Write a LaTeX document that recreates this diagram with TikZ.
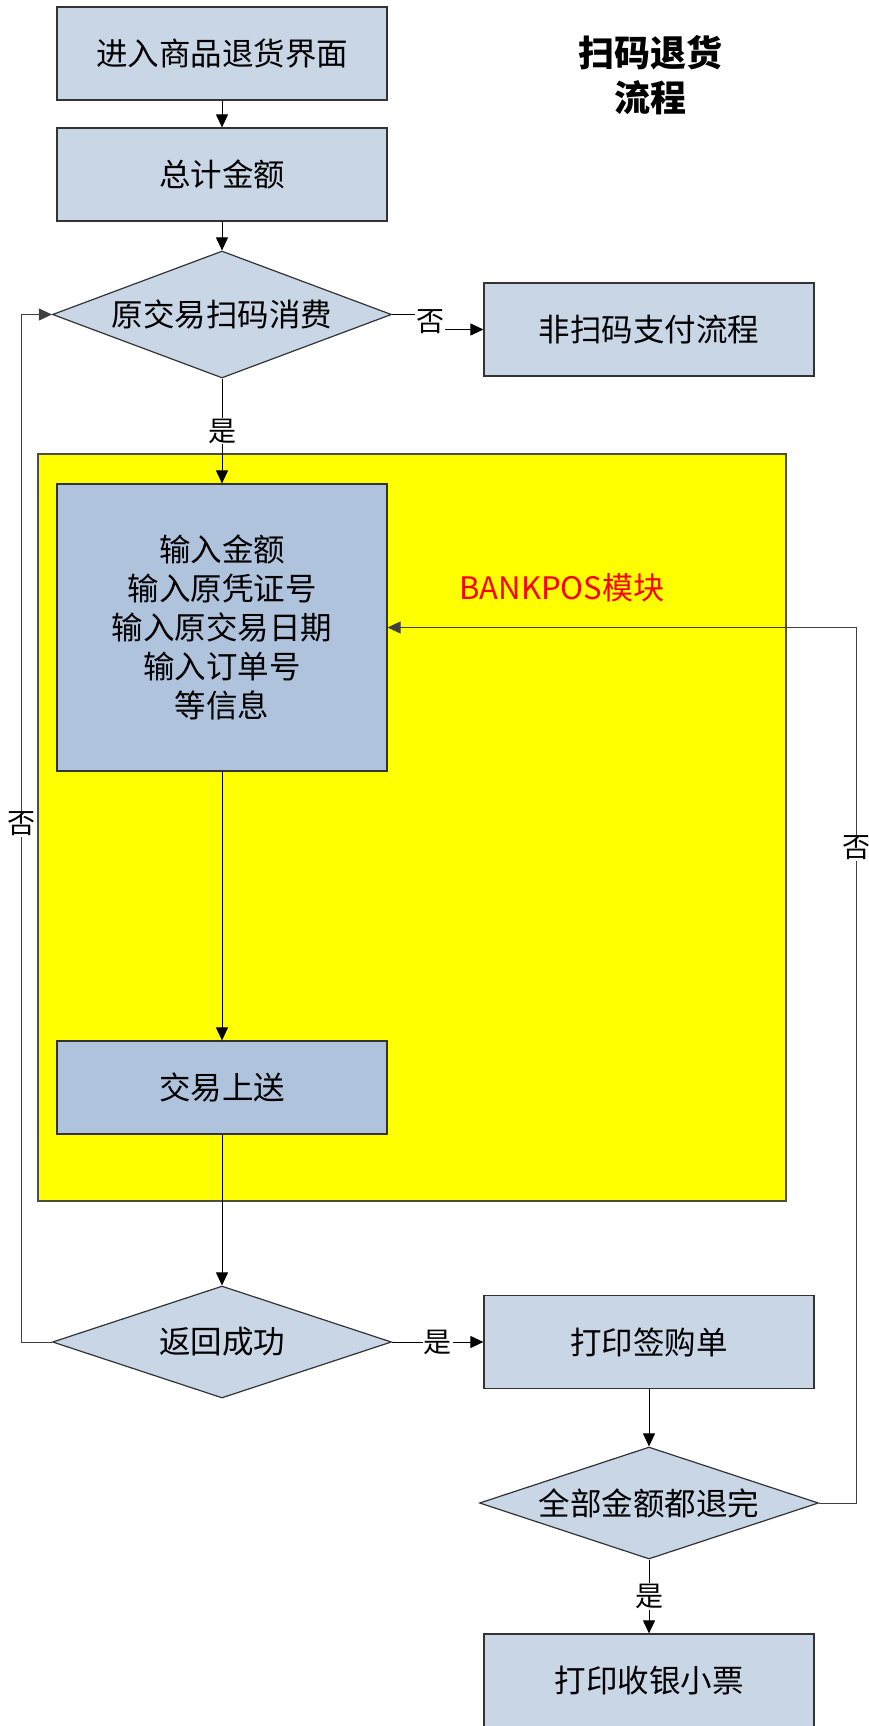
\documentclass[tikz,border=0pt]{standalone}
\usepackage{fontspec}
\setmainfont{Noto Sans CJK SC}
\usetikzlibrary{shapes.geometric,arrows.meta}
\definecolor{boxblue}{HTML}{C9D6E6}
\definecolor{modblue}{HTML}{B0C3DD}
\definecolor{edgegray}{HTML}{4D4D40}
\definecolor{modyellow}{HTML}{FFFF00}

\begin{document}
\begin{tikzpicture}[x=1pt,y=-1pt,
  >={Triangle[length=13pt,width=12pt]},
  proc/.style={draw=black!80, line width=1.2pt, fill=boxblue, minimum width=330pt, minimum height=93pt, inner sep=0pt, align=center, font=\fontsize{31.5}{39}\selectfont},
  modproc/.style={proc, fill=modblue},
  decide/.style={diamond, draw=black!80, line width=1.2pt, fill=boxblue, aspect=3, inner sep=0pt, minimum width=339pt, minimum height=112pt, font=\fontsize{31.5}{39}\selectfont},
  lbl/.style={fill=white, inner sep=1pt, font=\fontsize{28}{28}\selectfont},
  line/.style={draw=black, line width=1pt}]
  \useasboundingbox (0,0) rectangle (868,1726);
  % BANKPOS area
  \filldraw[fill=modyellow, draw=edgegray, line width=1.5pt] (38,454) rectangle (786,1201);

  \node (start) [proc] at (222,53.5) {进入商品退货界面};
  \node (total) [proc, below of=start, node distance=121pt] {总计金额};
  \node (scan) [decide, below of=total, node distance=140pt, minimum height=127pt] {原交易扫码消费};
  \node (nonscan) [proc, right of=scan, node distance=427pt, yshift=-15pt] {非扫码支付流程};
  \node (input) [modproc, below of=scan, node distance=313pt, minimum height=287pt] {输入金额\\输入原凭证号\\输入原交易日期\\输入订单号\\等信息};
  \node (upload) [modproc, below of=input, node distance=460pt] {交易上送};
  \node (ok) [decide, below of=upload, node distance=254.5pt] {返回成功};
  \node (slip) [proc, right of=ok, node distance=427pt] {打印签购单};
  \node (done) [decide, below of=slip, node distance=161pt] {全部金额都退完};
  \node (receipt) [proc, below of=done, node distance=177.5pt] {打印收银小票};
  \node (title) [right of=start, node distance=428pt, yshift=-21.5pt, align=center, font=\fontsize{36}{45}\selectfont\bfseries] {扫码退货\\流程};
  \node (module) [right of=input, node distance=340pt, yshift=39.5pt, text=red, font=\fontsize{31}{31}\selectfont] {BANKPOS模块};

  \path[->, line]
    (start) edge (total)
    (total) edge (scan)
    (scan) edge node[lbl] {是} (input)
    (input) edge (upload)
    (upload) edge (ok)
    (ok) edge node[lbl] {是} (slip)
    (slip) edge (done)
    (done) edge node[lbl] {是} (receipt);
  \draw[->, line] (scan.east) -- ++(38,0) |- node[lbl, pos=0.25] {否} (nonscan.west);
  \draw[->, line, draw=black!75] (done.east) -- ++(37,0) |- node[lbl, pos=0.374] {否} (input.east);
  \draw[->, line, draw=black!75] (ok.west) -- ++(-30,0) |- node[lbl, pos=0.252] {否} (scan.west);
\end{tikzpicture}
\end{document}
